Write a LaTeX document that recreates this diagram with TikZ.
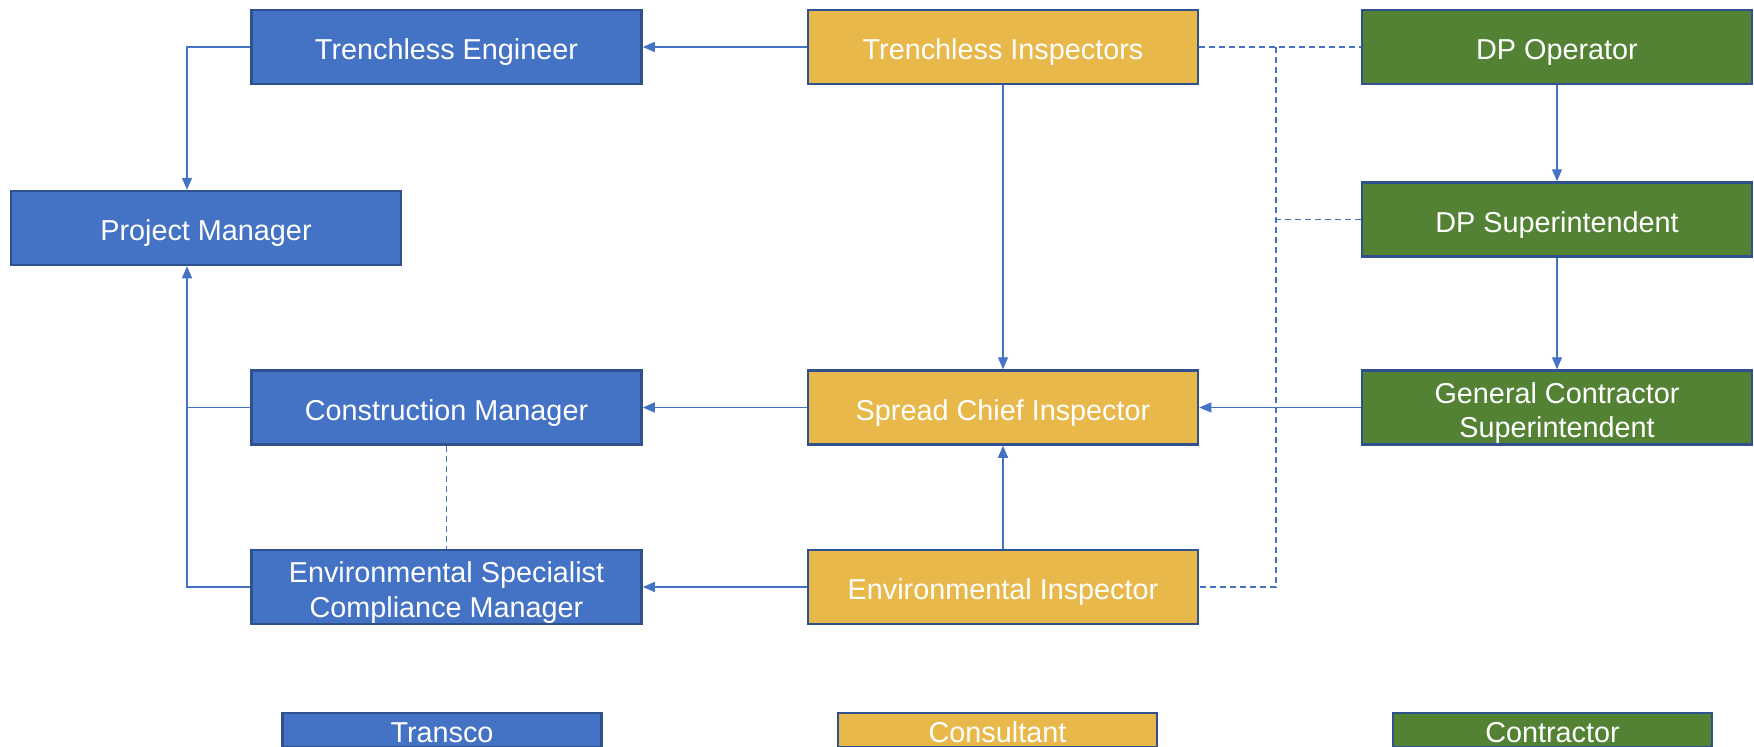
\documentclass[tikz,border=0pt]{standalone}
\usepackage{fontspec}
\setmainfont{Liberation Sans}
\usetikzlibrary{arrows.meta}
\definecolor{tblue}{HTML}{4472C4}
\definecolor{tgold}{HTML}{E9B84A}
\definecolor{tgreen}{HTML}{548235}
\definecolor{tedge}{HTML}{2F528F}
\definecolor{tline}{HTML}{4472C4}
\begin{document}
\begin{tikzpicture}[x=1pt,y=-1pt,
  box/.style={draw=tedge,line width=2.5pt,minimum width=390pt,minimum height=74pt,inner sep=0pt,
    text=white,font=\fontsize{28.8}{34.5}\selectfont,align=center,text height=25.6pt,text depth=0pt},
  twoline/.style={text height=60.1pt,text depth=0pt},
  legbox/.style={box,minimum width=319pt,minimum height=34pt},
  bluebox/.style={box,fill=tblue},
  goldbox/.style={box,fill=tgold},
  greenbox/.style={box,fill=tgreen},
  conn/.style={draw=tline,line width=1.3pt,-{Triangle[length=12pt,width=10pt]}},
  plainln/.style={draw=tline,line width=1.3pt},
  dshd/.style={draw=tline,line width=1.1pt,dash pattern=on 6pt off 4pt}
]
\useasboundingbox (0,0) rectangle (1754,747);

% nodes
\node[bluebox] (TE) at (446.5,47) {Trenchless Engineer};
\node[goldbox] (TI) at (1003,47) {Trenchless Inspectors};
\node[greenbox] (DPO) at (1557,47) {DP Operator};
\node[bluebox] (PM) at (206,228) {Project Manager};
\node[greenbox] (DPS) at (1557,219.5) {DP Superintendent};
\node[bluebox] (CM) at (446.5,407.5) {Construction Manager};
\node[goldbox] (SCI) at (1003,407.5) {Spread Chief Inspector};
\node[greenbox,twoline] (GCS) at (1557,407.5) {General Contractor\\Superintendent};
\node[bluebox,twoline] (ESCM) at (446.5,587) {Environmental Specialist\\Compliance Manager};
\node[goldbox] (EI) at (1003,587) {Environmental Inspector};

% legend
\node[legbox,fill=tblue] (LT) at (442,730) {Transco};
\node[legbox,fill=tgold] (LCo) at (997.5,730) {Consultant};
\node[legbox,fill=tgreen] (LCt) at (1552.5,730) {Contractor};

% solid connectors
\coordinate (j1) at (187,47);
\coordinate (j2) at (187,587);
\coordinate (d1) at (1276,47);
\draw[conn] (TI) -- (TE);
\draw[conn] (TE.west) -- (j1) -- (j1 |- PM.north);
\draw[conn] (ESCM.west) -- (j2) -- (j2 |- PM.south);
\draw[plainln] (CM.west) -- (CM.west -| j2);
\draw[conn] (TI) -- (SCI);
\draw[conn] (SCI) -- (CM);
\draw[conn] (EI) -- (ESCM);
\draw[conn] (EI) -- (SCI);
\draw[conn] (GCS) -- (SCI);
\draw[conn] (DPO) -- (DPS);
\draw[conn] (DPS) -- (GCS);

% dashed connectors
\draw[dshd] (TI.east) -- (DPO.west);
\draw[dshd] (d1) -- (d1 |- EI.east) -- (EI.east);
\draw[dshd] (DPS.west) -- (DPS.west -| d1);
\draw[dshd] (CM) -- (ESCM);
\end{tikzpicture}
\end{document}
